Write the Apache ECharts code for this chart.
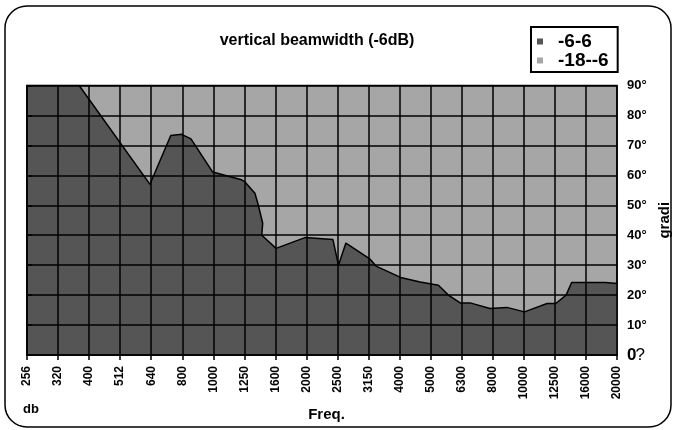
<!DOCTYPE html>
<html>
<head>
<meta charset="utf-8">
<script src="https://cdn.jsdelivr.net/npm/echarts@6/dist/echarts.min.js"></script>
<style>html,body{margin:0;padding:0;background:#fff}#c{width:676px;height:430px}</style>
</head>
<body>
<div id="c"></div>
<script>
// Frequency categories (x tick labels)
var freqs = ['256','320','400','512','640','800','1000','1250','1600','2000','2500','3150','4000','5000','6300','8000','10000','12500','16000','20000'];
// Boundary of the -6..6 band: position along frequency index, and angle in degrees
var bandPos = [0, 1.68, 3.96, 4.63, 4.98, 5.28, 5.98, 6.91, 7.02, 7.34, 7.45, 7.59, 7.56, 8.02, 8.95, 9.85, 10.03, 10.27, 11.05, 11.24, 12.03, 12.66, 13.25, 13.57, 13.95, 14.27, 14.91, 15.45, 16.02, 16.75, 17.03, 17.36, 17.54, 18.62, 19];
var bandDeg = [90, 90, 57, 73.3, 73.7, 72.2, 61.1, 58.5, 57.8, 54, 50, 44, 40, 35.6, 39.2, 38.6, 30, 37.4, 32, 29.7, 25.9, 24.4, 23.3, 20, 17.4, 17.4, 15.5, 15.9, 14.4, 17.2, 17.2, 20, 24.2, 24.2, 23.9];
var seriesNames = ['-6-6', '-18--6'];

var dark = '#555555', light = '#a6a6a6';
var FF = 'Liberation Sans, Arial, sans-serif';
var chart = echarts.init(document.getElementById('c'));
var pts = bandPos.map(function (p, i) { return [p, bandDeg[i]]; });

chart.setOption({
  animation: false,
  backgroundColor: '#fff',
  title: {
    text: 'vertical beamwidth (-6dB)', left: 317, top: 33, textAlign: 'center', padding: 0,
    textStyle: { fontFamily: FF, fontSize: 16, fontWeight: 'bold', color: '#000' }
  },
  legend: {
    orient: 'vertical', left: 531, top: 27,
    padding: [5, 9, 2, 6], itemGap: 0,
    borderColor: '#000', borderWidth: 2,
    icon: 'rect', itemWidth: 6, itemHeight: 6,
    textStyle: { fontFamily: FF, fontSize: 19, fontWeight: 'bold', color: '#000', padding: [0, 0, 0, 10] },
    data: [{ name: seriesNames[0] }, { name: seriesNames[1] }]
  },
  grid: {
    left: 27, right: 59, top: 85.5, bottom: 75,
    containLabel: false, outerBoundsMode: 'none',
    show: true, backgroundColor: light, borderColor: '#000', borderWidth: 1.5
  },
  xAxis: {
    type: 'value', min: 0, max: freqs.length - 1, interval: 1, z: 5,
    name: 'Freq.', nameLocation: 'middle', nameGap: 48,
    nameTextStyle: { fontFamily: FF, fontSize: 15, fontWeight: 'bold', color: '#000', padding: [0, 0, 0, 9] },
    axisLine: { lineStyle: { color: '#000', width: 1.5 } },
    axisTick: { show: true, length: 5, lineStyle: { color: '#000', width: 1.5 } },
    splitLine: { show: true, lineStyle: { color: '#000', width: 1.5 } },
    axisLabel: {
      rotate: 90, margin: 11, fontFamily: FF, fontSize: 12, fontWeight: 'bold', color: '#000',
      padding: [7, 0, 0, 0],
      formatter: function (v) { return freqs[Math.round(v)]; }
    }
  },
  yAxis: {
    type: 'value', position: 'right', min: 0, max: 90, interval: 10, z: 5,
    name: 'gradi', nameLocation: 'middle', nameGap: 23, nameRotate: 90,
    nameTextStyle: { fontFamily: FF, fontSize: 15, fontWeight: 'bold', color: '#000' },
    axisLine: { show: true, lineStyle: { color: '#000', width: 1.5 } },
    axisTick: { show: true, length: 5, lineStyle: { color: '#000', width: 1.5 } },
    splitLine: { show: true, lineStyle: { color: '#000', width: 1.5 } },
    axisLabel: {
      margin: 10, fontFamily: FF, fontSize: 13, fontWeight: 'bold', color: '#000',
      formatter: function (v) { return v === 0 ? '{z|0}{q|?}' : v + '°'; },
      rich: {
        z: { fontFamily: FF, fontSize: 17, fontWeight: 'bold', color: '#000' },
        q: { fontFamily: FF, fontSize: 17, fontWeight: 'normal', color: '#000', padding: [0, 0, 0, -1] }
      }
    }
  },
  graphic: [
    { type: 'rect', shape: { x: 5, y: 6, width: 666, height: 421, r: 22 },
      style: { fill: null, stroke: '#000', lineWidth: 1.5 }, z: -1 },
    { type: 'text', left: 23, top: 403,
      style: { text: 'db', font: 'bold 13px Liberation Sans, Arial', fill: '#000' } }
  ],
  series: [
    {
      name: seriesNames[0], type: 'line', data: pts, symbol: 'none', z: 2,
      color: dark,
      lineStyle: { color: '#000', width: 1.5 },
      areaStyle: { color: dark, opacity: 1, origin: 'start' }
    },
    { name: seriesNames[1], type: 'line', data: [], color: light }
  ]
});
</script>
</body>
</html>
